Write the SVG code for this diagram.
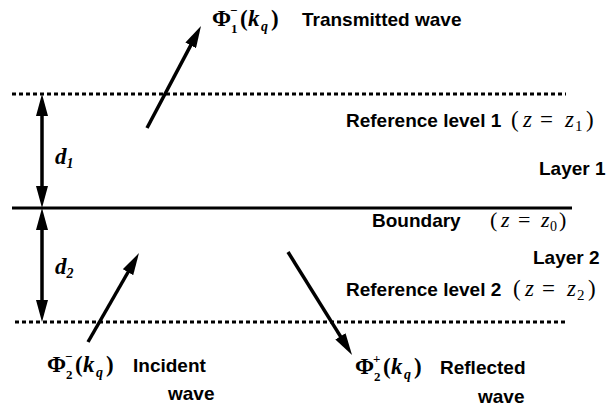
<svg xmlns="http://www.w3.org/2000/svg" width="616" height="412" viewBox="0 0 616 412">
<style>
.lbl{font-family:"Liberation Sans",Arial,sans-serif;font-size:19px;font-weight:bold;fill:#000}
.m{font-family:"Liberation Serif","Times New Roman",serif;fill:#000}
.it{font-style:italic}
.dash{stroke:#000;stroke-width:3;stroke-dasharray:4 3;fill:none}
.arr{stroke:#000;stroke-width:3.5;fill:none}
</style>
<defs>
<marker id="ah" markerUnits="userSpaceOnUse" viewBox="0 0 22 12" markerWidth="22" markerHeight="12" refX="6" refY="6" orient="auto-start-reverse">
<path d="M0,0 L22,6 L0,12 z" fill="#000"/>
</marker>
</defs>
<rect width="616" height="412" fill="#fff"/>
<g id="levels">
<line class="dash" x1="12" y1="94" x2="566" y2="94"/>
<line x1="12" y1="208" x2="572" y2="208" stroke="#000" stroke-width="3"/>
<line class="dash" x1="15" y1="322" x2="568" y2="322"/>
</g>
<g id="connectors">
<line class="arr" x1="42" y1="110" x2="42" y2="192" marker-start="url(#ah)" marker-end="url(#ah)"/>
<line class="arr" x1="42" y1="224" x2="42" y2="306" marker-start="url(#ah)" marker-end="url(#ah)"/>
<line class="arr" x1="147" y1="128" x2="193.5" y2="40.1" marker-end="url(#ah)"/>
<line class="arr" x1="88" y1="342" x2="131" y2="267" marker-end="url(#ah)"/>
<line class="arr" x1="288" y1="252" x2="343.6" y2="341.4" marker-end="url(#ah)"/>
</g>
<g id="d1"><text class="m it" x="55" y="164" font-size="23" font-weight="bold">d<tspan font-size="14" dy="4">1</tspan></text></g>
<g id="d2"><text class="m it" x="55" y="274" font-size="23" font-weight="bold">d<tspan font-size="14" dy="4">2</tspan></text></g>
<g id="transmitted">
<text class="m" font-size="23" font-weight="bold"><tspan x="212" y="26">Φ</tspan><tspan x="230" y="15" font-size="13">−</tspan><tspan x="231" y="33" font-size="13">1</tspan><tspan x="240" y="26">(</tspan><tspan x="248" y="26" class="it">k</tspan><tspan x="261" y="31" font-size="14" class="it">q</tspan><tspan x="271" y="26">)</tspan></text>
<text class="lbl" x="302" y="26">Transmitted wave</text>
</g>
<g id="ref1">
<text class="lbl" x="346" y="127">Reference level 1</text>
<text class="m" font-size="23"><tspan x="511" y="127">(</tspan><tspan x="523" y="127" class="it">z</tspan><tspan x="540" y="127">=</tspan><tspan x="565" y="127" class="it">z</tspan><tspan x="575" y="131" font-size="15">1</tspan><tspan x="586" y="127">)</tspan></text>
</g>
<g id="layer1"><text class="lbl" x="539" y="175">Layer 1</text></g>
<g id="boundary">
<text class="lbl" x="372" y="227">Boundary</text>
<text class="m" font-size="22"><tspan x="490" y="227">(</tspan><tspan x="501" y="227" class="it">z</tspan><tspan x="518" y="227">=</tspan><tspan x="541" y="227" class="it">z</tspan><tspan x="550" y="231" font-size="14">0</tspan><tspan x="559" y="227">)</tspan></text>
</g>
<g id="layer2"><text class="lbl" x="533" y="264">Layer 2</text></g>
<g id="ref2">
<text class="lbl" x="346" y="296">Reference level 2</text>
<text class="m" font-size="23"><tspan x="513" y="296">(</tspan><tspan x="525" y="296" class="it">z</tspan><tspan x="542" y="296">=</tspan><tspan x="567" y="296" class="it">z</tspan><tspan x="577" y="300" font-size="15">2</tspan><tspan x="588" y="296">)</tspan></text>
</g>
<g id="incident">
<text class="m" font-size="23" font-weight="bold"><tspan x="47" y="372">Φ</tspan><tspan x="65" y="361" font-size="13">−</tspan><tspan x="66" y="379" font-size="13">2</tspan><tspan x="75" y="372">(</tspan><tspan x="83" y="372" class="it">k</tspan><tspan x="96" y="377" font-size="14" class="it">q</tspan><tspan x="106" y="372">)</tspan></text>
<text class="lbl" x="133" y="372">Incident</text>
<text class="lbl" x="168" y="400">wave</text>
</g>
<g id="reflected">
<text class="m" font-size="23" font-weight="bold"><tspan x="355" y="374">Φ</tspan><tspan x="373" y="363" font-size="13">+</tspan><tspan x="374" y="381" font-size="13">2</tspan><tspan x="383" y="374">(</tspan><tspan x="391" y="374" class="it">k</tspan><tspan x="404" y="379" font-size="14" class="it">q</tspan><tspan x="414" y="374">)</tspan></text>
<text class="lbl" x="440" y="374">Reflected</text>
<text class="lbl" x="478" y="403">wave</text>
</g>
</svg>
